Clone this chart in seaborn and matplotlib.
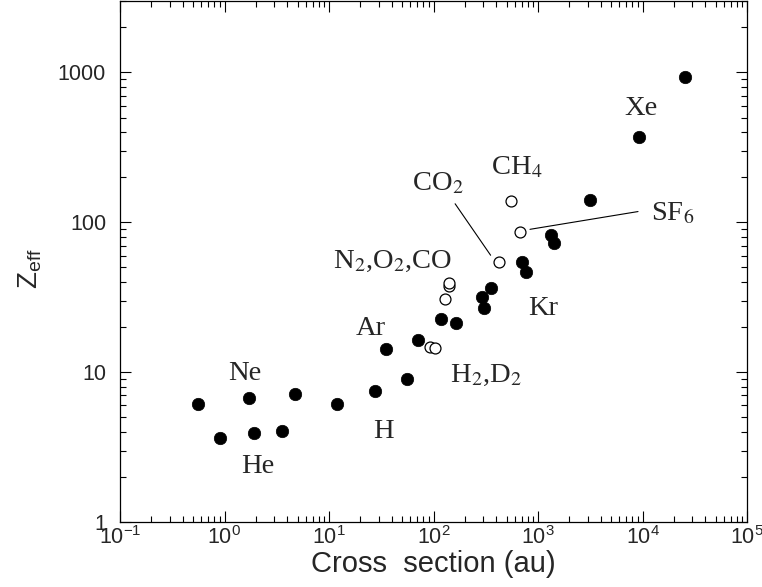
import matplotlib
matplotlib.use("Agg")
import matplotlib.pyplot as plt
import matplotlib.ticker as mticker
import seaborn as sns
import pandas as pd
import numpy as np

# ---- data ----
atoms_x = [0.56, 0.91, 1.73, 1.90, 3.55, 4.77, 12.0, 27.5, 35.1, 55.3, 71.7,
           118, 163, 289, 302, 355, 698, 763, 1330, 1420, 3150, 9340, 25500]
atoms_y = [6.12, 3.65, 6.71, 3.90, 4.06, 7.13, 6.09, 7.47, 14.2, 8.94, 16.5,
           22.5, 21.3, 31.5, 27.0, 36.3, 54.4, 46.6, 81.9, 73.2, 140, 370, 940]

mol_x = [92.7, 103, 130, 142, 142, 424, 548, 673]
mol_y = [14.7, 14.6, 30.8, 37.8, 39.4, 54.7, 139.6, 86.2]

labels = ["Xe", "CH$_4$", "CO$_2$", "SF$_6$", "N$_2$,O$_2$,CO", "Kr", "Ar",
          "H$_2$,D$_2$", "Ne", "He", "H"]
label_x = [6700, 355, 62.2, 11970, 10.9, 802, 18.1, 144, 1.087, 1.44, 26.4]
label_y = [517, 209, 163, 103, 49.3, 24.0, 17.6, 8.61, 8.85, 2.13, 3.63]

# leader lines (CO2, SF6): label end -> point end
lead_x = [[161, 352], [9060, 838]]
lead_y = [[133, 60.3], [118, 89.8]]

x_ticks = [1e-1, 1e0, 1e1, 1e2, 1e3, 1e4, 1e5]
y_ticks = [1, 10, 100, 1000]
y_ticklabels = ["1", "10", "100", "1000"]

# ---- style ----
sns.set_style("ticks")
plt.rcParams["font.family"] = ["Liberation Sans", "DejaVu Sans"]
plt.rcParams["mathtext.fontset"] = "custom"
plt.rcParams["mathtext.rm"] = "Liberation Sans"
plt.rcParams["mathtext.it"] = "Liberation Sans:italic"
plt.rcParams["mathtext.bf"] = "Liberation Sans:bold"

fig = plt.figure(figsize=(7.62, 5.87), dpi=100)
ax = fig.add_axes([120 / 762, 1 - 522 / 587, 627 / 762, 521 / 587])

df_a = pd.DataFrame({"x": atoms_x, "y": atoms_y})
df_m = pd.DataFrame({"x": mol_x, "y": mol_y})

sns.scatterplot(data=df_a, x="x", y="y", ax=ax, s=80, color="black",
                edgecolor="black", linewidth=0.5, zorder=3)
sns.scatterplot(data=df_m, x="x", y="y", ax=ax, s=62, facecolor="white",
                edgecolor="black", linewidth=0.9, zorder=3)

for lx, ly in zip(lead_x, lead_y):
    ax.plot(lx, ly, color="black", linewidth=0.8, zorder=2)

for t, x, y in zip(labels, label_x, label_y):
    ax.text(x, y, t, ha="left", va="baseline", fontsize=20.5,
            family=["Liberation Serif", "DejaVu Serif"], math_fontfamily="stix")

ax.set_xscale("log")
ax.set_yscale("log")
ax.set_xlim(1e-1, 1e5)
ax.set_ylim(1, 3000)

ax.set_xticks(x_ticks)
ax.xaxis.set_major_formatter(mticker.LogFormatterSciNotation())
ax.xaxis.set_minor_locator(mticker.LogLocator(base=10, subs=np.arange(2, 10)))
ax.xaxis.set_minor_formatter(mticker.NullFormatter())
ax.set_yticks(y_ticks)
ax.set_yticklabels(y_ticklabels)
ax.yaxis.set_minor_locator(mticker.LogLocator(base=10, subs=np.arange(2, 10)))
ax.yaxis.set_minor_formatter(mticker.NullFormatter())

ax.tick_params(which="both", direction="in", top=True, right=True,
               width=0.8, color="black")
ax.tick_params(which="major", length=8, labelsize=15.5)
ax.tick_params(axis="y", which="major", pad=10)
ax.tick_params(axis="x", which="major", pad=3)
ax.tick_params(which="minor", length=4.5)
for sp in ax.spines.values():
    sp.set_linewidth(0.9)
    sp.set_color("black")

ax.set_xlabel("Cross  section (au)", fontsize=21, labelpad=1)
ax.set_ylabel("Z$_{\\mathrm{eff}}$", fontsize=20)
ax.yaxis.set_label_coords(-0.122, 0.487)

fig.savefig("out.png", dpi=100)
